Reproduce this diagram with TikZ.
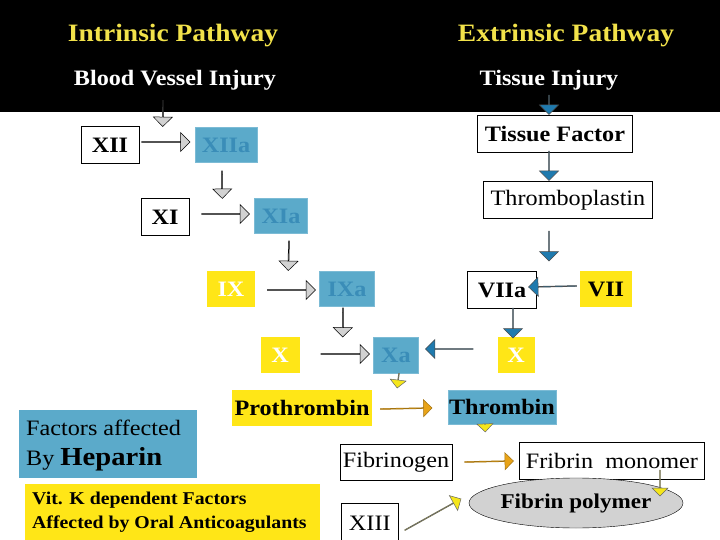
\documentclass[tikz,border=0pt]{standalone}
\usepackage{fontspec}
\setmainfont{Liberation Serif}[FakeStretch=1.1]
\usetikzlibrary{calc,shapes.arrows,shapes.geometric}
\definecolor{cblue}{HTML}{5BAACA}
\definecolor{tblue}{HTML}{3A8DB8}
\definecolor{cyel}{HTML}{FFE617}
\definecolor{cgray}{HTML}{D2D2D2}
\definecolor{ablue}{HTML}{1F7AAE}
\definecolor{aorange}{HTML}{E8A317}
\definecolor{ayel}{HTML}{F5E61A}
\definecolor{hyel}{HTML}{F2E24A}
\newcommand\barr[3]{\path let \p1=(#1), \p2=(#2), \n1={veclen(\x2-\x1,\y2-\y1)}, \n2={atan2(\y2-\y1,\x2-\x1)} in node[ba,#3,minimum height=\n1,rotate=\n2] at ($(\p1)!0.5!(\p2)$) {};}
\tikzset{
 ba/.style={single arrow, draw=black, line width=0.5pt, inner sep=0pt, single arrow head extend=5pt, minimum width=19pt, single arrow head indent=0pt},
 ga/.style={fill=cgray}, bla/.style={fill=ablue,draw=black!70}, oa/.style={fill=aorange,draw=aorange!70!black}, ya/.style={fill=ayel,draw=black!60},
 box/.style={draw=black, line width=0.6pt, fill=white, inner sep=0pt, font=\fontsize{22}{24}\selectfont},
 wb/.style={box, font=\fontsize{22}{24}\selectfont\bfseries},
 bb/.style={fill=cblue, draw=cblue!80, inner sep=0pt, text=tblue, font=\fontsize{22}{24}\selectfont\bfseries},
 yb/.style={fill=cyel, inner sep=0pt, text=white, font=\fontsize{22}{24}\selectfont\bfseries},
}
\begin{document}
\begin{tikzpicture}[x=1pt,y=-1pt]
\useasboundingbox (0,0) rectangle (720,540);
\fill[black] (0,0) rectangle (720,112);
\node[text=hyel,font=\fontsize{25}{27}\selectfont\bfseries] (intr) at (173,36) {Intrinsic Pathway};
\node[text=hyel,font=\fontsize{25}{27}\selectfont\bfseries] (extr) at (566,36) {Extrinsic Pathway};
\node[text=white,font=\fontsize{22}{24}\selectfont\bfseries] (bvi) at (175,80) {Blood Vessel Injury};
\node[text=white,font=\fontsize{22}{24}\selectfont\bfseries] (ti) at (549,80) {Tissue Injury};
\coordinate (c1) at (163,100);
\coordinate (c2) at (549,95);
% intrinsic
\node[wb,minimum width=58pt,minimum height=37pt] (xii) at (110,145) {XII};
\node[bb,minimum width=62pt,minimum height=35pt] (xiia) at (226,145) {XIIa};
\node[wb,minimum width=48pt,minimum height=37pt] (xi) at (165,217) {XI};
\node[bb,minimum width=53pt,minimum height=35pt] (xia) at (281,216) {XIa};
\node[yb,minimum width=48pt,minimum height=36pt] (ix) at (231,289) {IX};
\node[bb,minimum width=55pt,minimum height=35pt] (ixa) at (347,289) {IXa};
\node[yb,minimum width=39pt,minimum height=36pt] (x1) at (280,355) {X};
\node[bb,minimum width=45pt,minimum height=36pt] (xa) at (396,355) {Xa};
% extrinsic
\node[wb,minimum width=155pt,minimum height=37pt] (tf) at (555,134) {Tissue Factor};
\node[box,minimum width=169pt,minimum height=37pt] (tp) at (568,200) {Thromboplastin};
\node[wb,minimum width=69pt,minimum height=37pt] (viia) at (502,290) {VIIa};
\node[yb,text=black,minimum width=52pt,minimum height=36pt] (vii) at (606,289) {VII};
\node[yb,minimum width=37pt,minimum height=36pt] (x2) at (516,355) {X};
% common
\node[yb,text=black,minimum width=140pt,minimum height=36pt] (pro) at (302,408) {Prothrombin};
\node[bb,text=black,minimum width=108pt,minimum height=34pt] (thr) at (502,407) {Thrombin};
\node[box,minimum width=112pt,minimum height=36pt] (fg) at (396,462) {Fibrinogen};
\node[box,minimum width=185pt,minimum height=37pt] (fm) at (612,461) {Fribrin\ \ monomer};
\node[ellipse,draw=black,fill=cgray,minimum width=214pt,minimum height=50pt,inner sep=0pt,font=\fontsize{21}{23}\selectfont\bfseries] (fp) at (576,503) {Fibrin polymer};
\node[box,minimum width=57pt,minimum height=40pt,anchor=north west] (xiii) at (341,503) {XIII};
\node[fill=cblue,minimum width=178pt,minimum height=68pt,inner sep=0pt] (hep) at (108,444) {};
\node[font=\fontsize{22}{24}\selectfont,anchor=west,inner sep=0pt] (hep1) at (26,428) {Factors affected};
\node[font=\fontsize{22}{24}\selectfont,anchor=west,inner sep=0pt] (hep2) at (26,459) {By \fontsize{26}{28}\selectfont\bfseries Heparin};
\node[fill=cyel,minimum width=295pt,minimum height=56pt,inner sep=0pt] (vk) at (172,512) {};
\node[font=\fontsize{18}{24}\selectfont\bfseries,align=left,anchor=west,inner sep=0pt] (vkt) at (32,512) {Vit. K dependent Factors\\Affected by Oral Anticoagulants};
% gray arrows
\barr{c1}{$(xiia.north west)+(-32,-1)$}{ga}
\barr{$(xii.east)+(2,-3)$}{$(xiia.west)+(-5,-3)$}{ga}
\barr{$(xiia.south)+(-4,8)$}{$(xi.north east)+(33,0)$}{ga}
\barr{$(xi.east)+(12,-3)$}{$(xia.west)+(-5,-2)$}{ga}
\barr{$(xia.south)+(8,7)$}{$(ixa.north west)+(-31,-1)$}{ga}
\barr{$(ix.east)+(12,1)$}{$(ixa.west)+(-4,1)$}{ga}
\barr{$(ixa.south)+(-4,1)$}{$(x1.north east)+(43,0)$}{ga}
\barr{$(x1.east)+(21,-1)$}{$(xa.west)+(-4,-1)$}{ga}
% blue arrows
\barr{c2}{$(tf.north)+(-6,-1)$}{bla}
\barr{$(tf.south)+(-6,-2)$}{$(tp.north)+(-19,-1)$}{bla}
\barr{$(tp.south)+(-19,12)$}{$(tp.south)+(-19,42)$}{bla}
\barr{$(vii.west)+(-3,-3)$}{$(viia.east)+(-8,-3)$}{bla}
\barr{$(viia.south)+(11,-1)$}{$(x2.north)+(-3,1)$}{bla}
\barr{$(x2.west)+(-24,-6)$}{$(xa.east)+(7,-6)$}{bla}
% yellow / orange arrows
\barr{$(xa.south)+(3,0)$}{$(pro.north east)+(25,-2)$}{ya,minimum width=16pt,single arrow head extend=4.5pt}
\barr{$(pro.east)+(8,1)$}{$(thr.west)+(-16,1)$}{oa,minimum width=17pt,single arrow head extend=4.5pt}
\barr{$(thr.south)+(-17,0)$}{$(fg.north east)+(33,-12)$}{ya,minimum width=16pt,single arrow head extend=4.5pt}
\barr{$(fg.east)+(12,0)$}{$(fm.west)+(-6,0)$}{oa,minimum width=17pt,single arrow head extend=4.5pt}
\barr{$(fm.south)+(48,-10)$}{$(fm.south)+(48,16)$}{ya,minimum width=16pt,single arrow head extend=4.5pt}
\barr{$(xiii.east)+(6,7)$}{$(fp.west)+(-8,-4)$}{ya,minimum width=17pt,single arrow head extend=4.5pt}
\end{tikzpicture}
\end{document}
